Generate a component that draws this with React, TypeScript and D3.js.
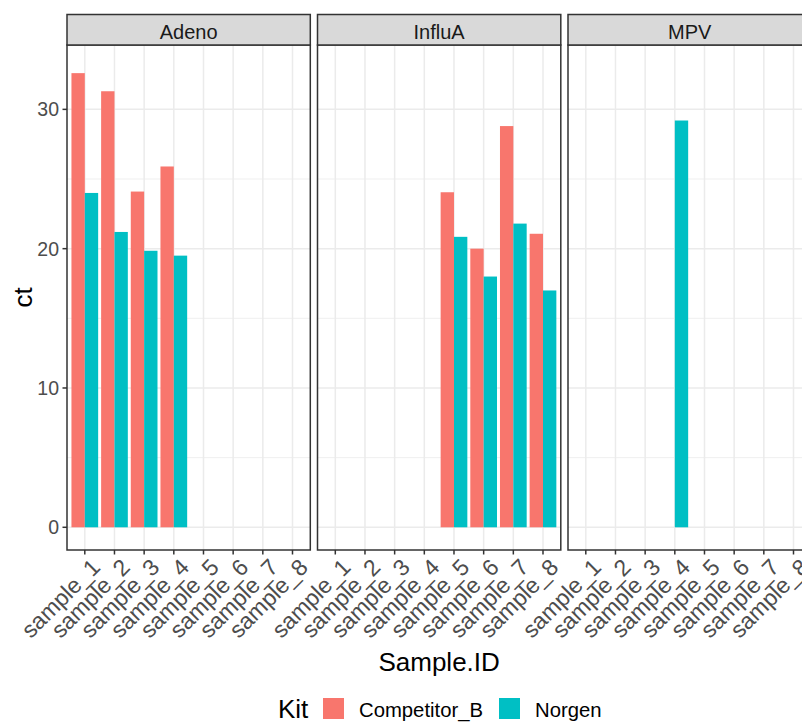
import React from 'react';
import * as d3 from 'd3';

// facet panels, sample ids and kits
const panels = ['Adeno', 'InfluA', 'MPV'];
const samples = ['sample_1', 'sample_2', 'sample_3', 'sample_4', 'sample_5', 'sample_6', 'sample_7', 'sample_8'];
const kits = ['Competitor_B', 'Norgen'];
const kitColors = ['#F8766D', '#00BFC4'];

// ct values per panel, null where there is no bar
const competitorB = [
  [32.6, 31.3, 24.1, 25.9, null, null, null, null],
  [null, null, null, null, 24.05, 20.0, 28.8, 21.07],
  [null, null, null, null, null, null, null, null],
];
const norgen = [
  [24.0, 21.2, 19.85, 19.5, null, null, null, null],
  [null, null, null, null, 20.85, 18.0, 21.8, 17.0],
  [null, null, null, 29.2, null, null, null, null],
];
const yTicks = [0, 10, 20, 30];
const yMinor = [5, 15, 25];

const font = "'Liberation Sans', Arial, sans-serif";

export default function App() {
  const W = 802, H = 722;
  const panelLeft = 67, panelW = 243.3, gap = 7.2;
  const stripTop = 14.5, panelTop = 45, panelBottom = 550;

  const y = d3.scaleLinear().domain([-1.63, 34.62]).range([panelBottom, panelTop]);
  // ggplot discrete axis: 0.6 units of expansion on each side
  const x = d3.scalePoint().domain(samples).range([0, panelW]).padding(0.6);
  const cx = (s: string) => x(s) as number;
  const bw = x.step() * 0.45;

  const series = [competitorB, norgen];

  return (
    <svg width={W} height={H} style={{ position: 'absolute', left: 0, top: 0 }} fontFamily={font}>
      <rect width={W} height={H} fill="#fff" />
      {panels.map((p, pi) => {
        const px = panelLeft + pi * (panelW + gap);
        return (
          <g key={p} transform={`translate(${px},0)`}>
            {/* panel grid */}
            {yMinor.map((t) => (
              <line key={'m' + t} x1={0} x2={panelW} y1={y(t)} y2={y(t)} stroke="#EBEBEB" strokeWidth={0.8} />
            ))}
            {yTicks.map((t) => (
              <line key={'g' + t} x1={0} x2={panelW} y1={y(t)} y2={y(t)} stroke="#EBEBEB" strokeWidth={1.5} />
            ))}
            {samples.map((s) => (
              <line key={'v' + s} x1={cx(s)} x2={cx(s)} y1={panelTop} y2={panelBottom} stroke="#EBEBEB" strokeWidth={1.5} />
            ))}
            {/* bars */}
            {series.map((vals, ki) =>
              samples.map((s, si) => {
                const v = vals[pi][si];
                if (v == null) return null;
                const x0 = cx(s) - bw + ki * bw;
                return (
                  <rect key={ki + s} x={x0} y={y(v)} width={bw} height={y(0) - y(v)} fill={kitColors[ki]} />
                );
              })
            )}
            {/* panel border */}
            <rect x={0} y={panelTop} width={panelW} height={panelBottom - panelTop} fill="none" stroke="#333" strokeWidth={1.5} />
            {/* strip */}
            <rect x={0} y={stripTop} width={panelW} height={panelTop - stripTop} fill="#D9D9D9" stroke="#333" strokeWidth={1.5} />
            <text x={panelW / 2} y={39} textAnchor="middle" fontSize={20} fill="#1A1A1A">{p}</text>
            {/* x ticks */}
            {samples.map((s) => (
              <g key={'t' + s}>
                <line x1={cx(s)} x2={cx(s)} y1={panelBottom} y2={panelBottom + 4.5} stroke="#333" strokeWidth={1.5} />
                <text
                  transform={`translate(${cx(s) + 5},${panelBottom + 7}) rotate(-45)`}
                  textAnchor="end"
                  dy="0.72em"
                  fontSize={23}
                  fill="#4D4D4D"
                >
                  {s}
                </text>
              </g>
            ))}
          </g>
        );
      })}
      {/* y axis */}
      {yTicks.map((t) => (
        <g key={'y' + t}>
          <line x1={panelLeft - 4.5} x2={panelLeft} y1={y(t)} y2={y(t)} stroke="#333" strokeWidth={1.5} />
          <text x={panelLeft - 8} y={y(t)} dy="0.36em" textAnchor="end" fontSize={19.5} fill="#4D4D4D">{t}</text>
        </g>
      ))}
      <text transform={`translate(32,${(panelTop + panelBottom) / 2}) rotate(-90)`} textAnchor="middle" fontSize={26}>ct</text>
      <text x={panelLeft + (3 * panelW + 2 * gap) / 2} y={671} textAnchor="middle" fontSize={26}>Sample.ID</text>
      {/* legend */}
      <text x={278} y={718} fontSize={26}>Kit</text>
      {kits.map((k, i) => {
        const kx = [323, 499][i];
        return (
          <g key={k}>
            <rect x={kx} y={698} width={21} height={21} fill={kitColors[i]} />
            <text x={kx + 36} y={716.5} fontSize={20.3}>{k}</text>
          </g>
        );
      })}
    </svg>
  );
}
